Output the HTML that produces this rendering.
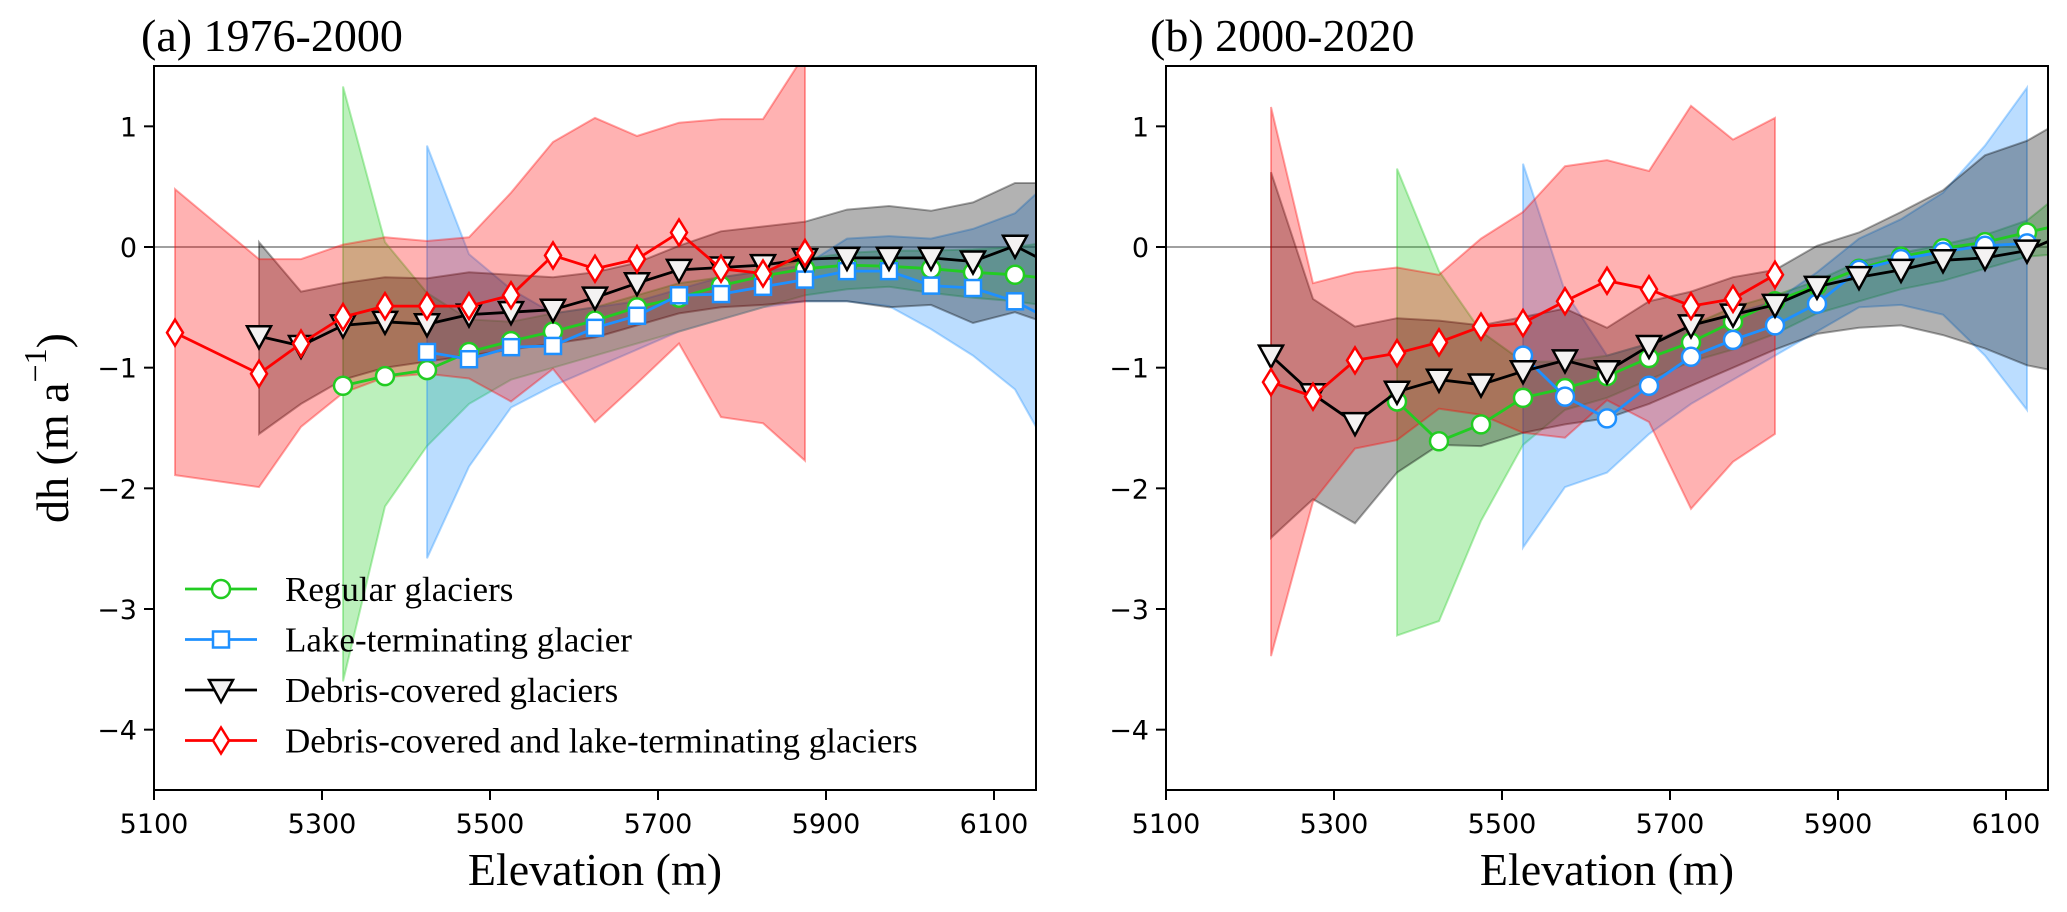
<!DOCTYPE html>
<html>
<head>
<meta charset="utf-8">
<style>
html,body{margin:0;padding:0;background:#fff;}
svg{display:block;}
.tick{font-family:"DejaVu Sans",sans-serif;font-size:27px;fill:#000;}
.serif{font-family:"Liberation Serif",serif;fill:#000;}
</style>
</head>
<body>
<svg id="chart" width="2067" height="912" viewBox="0 0 2067 912" xmlns="http://www.w3.org/2000/svg">
<defs>
<clipPath id="clipA"><rect x="154" y="66" width="882" height="724"/></clipPath>
<clipPath id="clipB"><rect x="1166" y="66" width="882" height="724"/></clipPath>
</defs>
</svg>
<script>
// ---------- data ----------
const xTicks = [5100, 5300, 5500, 5700, 5900, 6100];
const yTicks = [1, 0, -1, -2, -3, -4];
const seriesNames = ["Regular glaciers", "Lake-terminating glacier", "Debris-covered glaciers", "Debris-covered and lake-terminating glaciers"];

// Panel (a) 1976-2000
const aRegX = [5325,5375,5425,5475,5525,5575,5625,5675,5725,5775,5825,5875,5925,5975,6025,6075,6125,6175];
const aReg = [-1.15,-1.07,-1.02,-0.87,-0.78,-0.70,-0.61,-0.50,-0.42,-0.32,-0.24,-0.18,-0.15,-0.16,-0.18,-0.21,-0.23,-0.27];
const aRegUp = [1.33,0.04,-0.38,-0.60,-0.62,-0.55,-0.50,-0.40,-0.30,-0.25,-0.20,-0.10,-0.05,-0.03,-0.03,-0.02,0.00,0.05];
const aRegLo = [-3.60,-2.15,-1.65,-1.30,-1.10,-1.00,-0.90,-0.80,-0.70,-0.60,-0.50,-0.40,-0.35,-0.33,-0.38,-0.42,-0.45,-0.50];

const aLakeX = [5425,5475,5525,5575,5625,5675,5725,5775,5825,5875,5925,5975,6025,6075,6125,6175];
const aLake = [-0.87,-0.93,-0.83,-0.82,-0.67,-0.57,-0.40,-0.39,-0.33,-0.27,-0.20,-0.20,-0.32,-0.34,-0.45,-0.63];
const aLakeUp = [0.84,-0.06,-0.35,-0.55,-0.50,-0.45,-0.35,-0.25,-0.20,-0.15,0.07,0.09,0.07,0.15,0.28,0.60];
const aLakeLo = [-2.58,-1.82,-1.33,-1.15,-1.00,-0.85,-0.70,-0.60,-0.50,-0.45,-0.45,-0.49,-0.68,-0.90,-1.18,-1.80];

const aDebX = [5225,5275,5325,5375,5425,5475,5525,5575,5625,5675,5725,5775,5825,5875,5925,5975,6025,6075,6125,6175];
const aDeb = [-0.74,-0.82,-0.65,-0.62,-0.64,-0.56,-0.54,-0.52,-0.42,-0.30,-0.19,-0.17,-0.15,-0.10,-0.09,-0.09,-0.09,-0.12,0.01,-0.17];
const aDebUp = [0.04,-0.37,-0.30,-0.25,-0.26,-0.21,-0.23,-0.25,-0.21,-0.13,0.01,0.13,0.17,0.21,0.31,0.34,0.30,0.37,0.53,0.53];
const aDebLo = [-1.55,-1.30,-1.10,-1.00,-0.95,-0.90,-0.85,-0.80,-0.75,-0.65,-0.55,-0.50,-0.48,-0.45,-0.45,-0.50,-0.48,-0.63,-0.54,-0.66];

const aDLX = [5125,5225,5275,5325,5375,5425,5475,5525,5575,5625,5675,5725,5775,5825,5875];
const aDL = [-0.71,-1.05,-0.80,-0.58,-0.49,-0.49,-0.49,-0.40,-0.07,-0.18,-0.10,0.12,-0.18,-0.22,-0.05];
const aDLUp = [0.48,-0.10,-0.10,0.02,0.08,0.05,0.08,0.45,0.87,1.07,0.92,1.03,1.06,1.06,1.60];
const aDLLo = [-1.89,-1.99,-1.49,-1.21,-1.08,-1.05,-1.09,-1.28,-1.01,-1.45,-1.13,-0.80,-1.41,-1.46,-1.77];

// Panel (b) 2000-2020
const bRegX = [5375,5425,5475,5525,5575,5625,5675,5725,5775,5825,5875,5925,5975,6025,6075,6125,6175];
const bReg = [-1.28,-1.61,-1.47,-1.25,-1.17,-1.07,-0.92,-0.79,-0.62,-0.45,-0.32,-0.18,-0.08,-0.01,0.04,0.12,0.20];
const bRegUp = [0.65,-0.20,-0.70,-0.95,-0.95,-0.90,-0.80,-0.65,-0.50,-0.40,-0.28,-0.12,-0.05,0.02,0.10,0.22,0.50];
const bRegLo = [-3.22,-3.10,-2.27,-1.64,-1.35,-1.25,-1.10,-0.95,-0.85,-0.72,-0.55,-0.45,-0.35,-0.28,-0.18,-0.08,-0.05];

const bLakeX = [5525,5575,5625,5675,5725,5775,5825,5875,5925,5975,6025,6075,6125];
const bLake = [-0.90,-1.24,-1.42,-1.15,-0.91,-0.77,-0.65,-0.47,-0.19,-0.10,-0.04,0.01,0.03];
const bLakeUp = [0.69,-0.37,-0.90,-0.80,-0.65,-0.55,-0.45,-0.21,0.07,0.23,0.45,0.84,1.32];
const bLakeLo = [-2.49,-1.99,-1.87,-1.55,-1.30,-1.10,-0.90,-0.70,-0.50,-0.48,-0.56,-0.90,-1.35];

const bDebX = [5225,5275,5325,5375,5425,5475,5525,5575,5625,5675,5725,5775,5825,5875,5925,5975,6025,6075,6125,6175];
const bDeb = [-0.90,-1.22,-1.46,-1.20,-1.10,-1.14,-1.03,-0.94,-1.03,-0.82,-0.65,-0.56,-0.48,-0.33,-0.25,-0.19,-0.11,-0.09,-0.03,0.12];
const bDebUp = [0.62,-0.43,-0.66,-0.59,-0.61,-0.65,-0.58,-0.51,-0.67,-0.45,-0.37,-0.25,-0.19,0.01,0.12,0.29,0.47,0.76,0.88,1.08];
const bDebLo = [-2.41,-2.09,-2.29,-1.87,-1.64,-1.65,-1.54,-1.47,-1.42,-1.30,-1.15,-1.00,-0.85,-0.72,-0.67,-0.65,-0.73,-0.84,-0.98,-1.05];

const bDLX = [5225,5275,5325,5375,5425,5475,5525,5575,5625,5675,5725,5775,5825];
const bDL = [-1.12,-1.24,-0.94,-0.88,-0.79,-0.66,-0.63,-0.45,-0.28,-0.35,-0.49,-0.43,-0.23];
const bDLUp = [1.16,-0.30,-0.21,-0.17,-0.23,0.07,0.29,0.67,0.72,0.63,1.17,0.89,1.07];
const bDLLo = [-3.39,-2.11,-1.67,-1.60,-1.34,-1.39,-1.54,-1.58,-1.27,-1.45,-2.17,-1.78,-1.55];

// ---------- drawing ----------
const NS = "http://www.w3.org/2000/svg";
const svg = document.getElementById("chart");
const XMIN = 5100, XMAX = 6150, YMIN = -4.5, YMAX = 1.5;
const TOP = 66, BOT = 790, W = 882;
const COL = {green:"#22cc22", blue:"#1e90ff", black:"#000000", red:"#ff0000"};

function mk(tag, attrs, parent) {
  const e = document.createElementNS(NS, tag);
  for (const k in attrs) e.setAttribute(k, attrs[k]);
  (parent || svg).appendChild(e);
  return e;
}
function yScale(v) { return TOP + (YMAX - v) / (YMAX - YMIN) * (BOT - TOP); }
function xScaleFor(x0) { return x => x0 + (x - XMIN) / (XMAX - XMIN) * W; }

function marker(g, kind, cx, cy, color) {
  let m;
  if (kind === "circle") {
    m = mk("circle", {cx: cx, cy: cy, r: 9, fill: "#fff", stroke: color, "stroke-width": 2.5}, g);
  } else if (kind === "square") {
    m = mk("rect", {x: cx - 8, y: cy - 8, width: 16, height: 16, fill: "#fff", stroke: color, "stroke-width": 2.5}, g);
  } else if (kind === "tri") {
    m = mk("polygon", {points: (cx-12)+","+(cy-10)+" "+(cx+12)+","+(cy-10)+" "+cx+","+(cy+12), fill: "#f4f2f2", stroke: color, "stroke-width": 2.5}, g);
  } else {
    m = mk("polygon", {points: cx+","+(cy-13)+" "+(cx+8)+","+cy+" "+cx+","+(cy+13)+" "+(cx-8)+","+cy, fill: "#fff", stroke: color, "stroke-width": 2.5}, g);
  }
  
  
  return m;
}

function drawBand(g, xs, up, lo, sx, color, name) {
  let d = "";
  xs.forEach((x, i) => { d += (i ? "L" : "M") + sx(x).toFixed(1) + "," + yScale(up[i]).toFixed(1); });
  for (let i = xs.length - 1; i >= 0; i--) d += "L" + sx(xs[i]).toFixed(1) + "," + yScale(lo[i]).toFixed(1);
  d += "Z";
  const p = mk("path", {d: d, fill: color, "fill-opacity": 0.3, stroke: color, "stroke-opacity": 0.35, "stroke-width": 2}, g);
  
  
}
function drawLine(g, xs, ys, sx, color, kind, name) {
  const pts = xs.map((x, i) => sx(x).toFixed(1) + "," + yScale(ys[i]).toFixed(1)).join(" ");
  const l = mk("polyline", {points: pts, fill: "none", stroke: color, "stroke-width": 2.8, "stroke-linejoin": "round"}, g);
  
  
  xs.forEach((x, i) => { if (x <= XMAX) marker(g, kind, sx(x), yScale(ys[i]), color); });
}

function panel(x0, clipId, title, titleX, d, pname) {
  const sx = xScaleFor(x0);
  const g = mk("g", {});
  
  

  const plot = mk("g", {"clip-path": "url(#" + clipId + ")"}, g);
  
  

  const zl = mk("line", {x1: x0, x2: x0 + W, y1: yScale(0), y2: yScale(0), stroke: "#808080", "stroke-width": 1.5}, plot);
  
  

  drawBand(plot, d.regX, d.regUp, d.regLo, sx, COL.green, "regular-band");
  drawBand(plot, d.lakeX, d.lakeUp, d.lakeLo, sx, COL.blue, "lake-band");
  drawBand(plot, d.debX, d.debUp, d.debLo, sx, COL.black, "debris-band");
  drawBand(plot, d.dlX, d.dlUp, d.dlLo, sx, COL.red, "debris-lake-band");
  drawLine(plot, d.regX, d.reg, sx, COL.green, "circle", "regular-line");
  drawLine(plot, d.lakeX, d.lake, sx, COL.blue, d.lakeMarker, "lake-line");
  drawLine(plot, d.debX, d.deb, sx, COL.black, "tri", "debris-line");
  drawLine(plot, d.dlX, d.dl, sx, COL.red, "diamond", "debris-lake-line");

  const fr = mk("rect", {x: x0, y: TOP, width: W, height: BOT - TOP, fill: "none", stroke: "#000", "stroke-width": 2}, g);
  
  

  xTicks.forEach(t => {
    const x = sx(t);
    const tk = mk("line", {x1: x, x2: x, y1: BOT, y2: BOT + 10, stroke: "#000", "stroke-width": 2}, g);
    
    
    const lb = mk("text", {x: x, y: 833, "text-anchor": "middle", class: "tick"}, g);
    lb.textContent = String(t);
    
    
  });
  yTicks.forEach(t => {
    const y = yScale(t);
    const tk = mk("line", {x1: x0 - 10, x2: x0, y1: y, y2: y, stroke: "#000", "stroke-width": 2}, g);
    
    
    const lb = mk("text", {x: x0 - 17, y: y + 10, "text-anchor": "end", class: "tick"}, g);
    lb.textContent = t < 0 ? "\u2212" + Math.abs(t) : String(t);
    
    
  });
  const tt = mk("text", {x: titleX, y: 51, class: "serif", "font-size": 46}, g);
  tt.textContent = title;
  
  
  const xl = mk("text", {x: x0 + W / 2, y: 885, "text-anchor": "middle", class: "serif", "font-size": 46}, g);
  xl.textContent = "Elevation (m)";
  
  
}

panel(154, "clipA", "(a) 1976-2000", 141, {
  regX: aRegX, reg: aReg, regUp: aRegUp, regLo: aRegLo,
  lakeX: aLakeX, lake: aLake, lakeUp: aLakeUp, lakeLo: aLakeLo, lakeMarker: "square",
  debX: aDebX, deb: aDeb, debUp: aDebUp, debLo: aDebLo,
  dlX: aDLX, dl: aDL, dlUp: aDLUp, dlLo: aDLLo
}, "panel-a");
panel(1166, "clipB", "(b) 2000-2020", 1150, {
  regX: bRegX, reg: bReg, regUp: bRegUp, regLo: bRegLo,
  lakeX: bLakeX, lake: bLake, lakeUp: bLakeUp, lakeLo: bLakeLo, lakeMarker: "circle",
  debX: bDebX, deb: bDeb, debUp: bDebUp, debLo: bDebLo,
  dlX: bDLX, dl: bDL, dlUp: bDLUp, dlLo: bDLLo
}, "panel-b");

// y-axis title
const yl = mk("text", {x: 0, y: 0, class: "serif", "font-size": 46, "text-anchor": "middle", transform: "translate(68,428) rotate(-90)"});


const t1 = mk("tspan", {}, yl); t1.textContent = "dh (m a";
const t2 = mk("tspan", {dy: -22, "font-size": 32}, yl); t2.textContent = "\u22121";
const t3 = mk("tspan", {dy: 22}, yl); t3.textContent = ")";

// legend
const legend = mk("g", {});


const legCols = [COL.green, COL.blue, COL.black, COL.red];
const legKinds = ["circle", "square", "tri", "diamond"];
seriesNames.forEach((nm, i) => {
  const y = 589 + i * 50.5;
  const e = mk("g", {}, legend);
  
  
  mk("line", {x1: 185, x2: 257, y1: y, y2: y, stroke: legCols[i], "stroke-width": 2.8}, e);
  marker(e, legKinds[i], 221, y, legCols[i]);
  const tx = mk("text", {x: 285, y: y + 12, class: "serif", "font-size": 35}, e);
  tx.textContent = nm;
});
</script>
</body>
</html>
